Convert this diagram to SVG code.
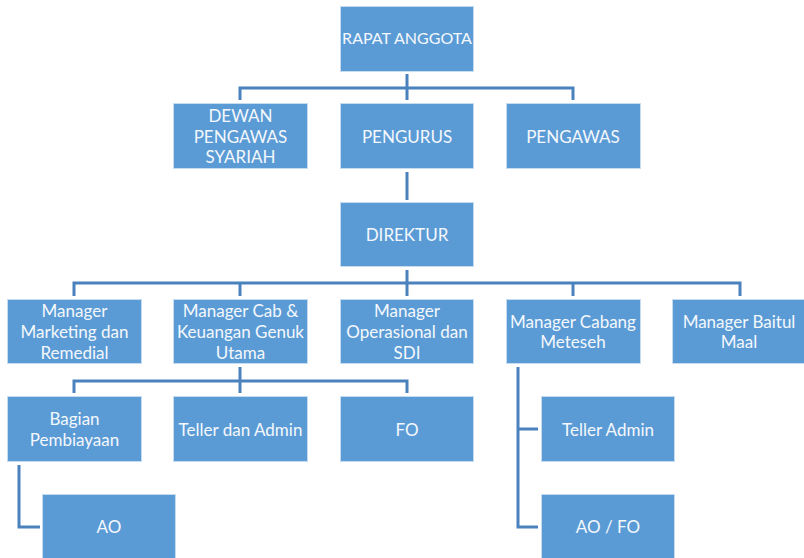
<svg xmlns="http://www.w3.org/2000/svg" width="804" height="558" viewBox="0 0 804 558">
<style>
.box{fill:#5B9BD5;stroke:#C5DCF1;stroke-width:1}
.t{font-family:Lato,"Open Sans","Liberation Sans",sans-serif;font-size:17px;fill:#F4F8FC;text-anchor:middle}
.s{font-size:16px}
.c{fill:none;stroke:#4A82BE;stroke-width:3}
</style>
<rect width="804" height="558" fill="#FFFFFF"/>
<g id="connectors">
<path class="c" d="M407 74V100M240 100V88H573V100"/>
<path class="c" d="M407 172V200"/>
<path class="c" d="M407 270V296M74 296V283H740V296M240 283V296M573 283V296"/>
<path class="c" d="M240 367V393M74 393V381H407V393"/>
<path class="c" d="M19 465V527H40"/>
<path class="c" d="M518 367V527H538M518 429H538"/>
</g>
<g id="rapat"><rect class="box" x="340.5" y="6.5" width="133" height="65"/><text class="t s" x="407" y="44">RAPAT ANGGOTA</text></g>
<g id="dps"><rect class="box" x="173.5" y="103.5" width="134" height="65"/><text class="t" x="240.5" y="122">DEWAN</text><text class="t" x="240.5" y="142.5">PENGAWAS</text><text class="t" x="240.5" y="163">SYARIAH</text></g>
<g id="pengurus"><rect class="box" x="340.5" y="103.5" width="133" height="65"/><text class="t" x="407" y="142.5">PENGURUS</text></g>
<g id="pengawas"><rect class="box" x="506.5" y="103.5" width="134" height="65"/><text class="t" x="573" y="142.5">PENGAWAS</text></g>
<g id="direktur"><rect class="box" x="340.5" y="202.5" width="133" height="64"/><text class="t" x="407" y="240.5">DIREKTUR</text></g>
<g id="m1"><rect class="box" x="7.5" y="299.5" width="134" height="64"/><text class="t" x="74.5" y="317">Manager</text><text class="t" x="74.5" y="338">Marketing dan</text><text class="t" x="74.5" y="359">Remedial</text></g>
<g id="m2"><rect class="box" x="173.5" y="299.5" width="134" height="64"/><text class="t" x="240.5" y="317">Manager Cab &amp;</text><text class="t" x="240.5" y="338">Keuangan Genuk</text><text class="t" x="240.5" y="359">Utama</text></g>
<g id="m3"><rect class="box" x="340.5" y="299.5" width="133" height="64"/><text class="t" x="407" y="317">Manager</text><text class="t" x="407" y="338">Operasional dan</text><text class="t" x="407" y="359">SDI</text></g>
<g id="m4"><rect class="box" x="506.5" y="299.5" width="134" height="64"/><text class="t" x="573" y="327.5">Manager Cabang</text><text class="t" x="573" y="348">Meteseh</text></g>
<g id="m5"><rect class="box" x="672.5" y="299.5" width="134" height="64"/><text class="t" x="739" y="327.5">Manager Baitul</text><text class="t" x="739" y="348">Maal</text></g>
<g id="bp"><rect class="box" x="7.5" y="396.5" width="134" height="65"/><text class="t" x="74.5" y="425">Bagian</text><text class="t" x="74.5" y="445.5">Pembiayaan</text></g>
<g id="teller"><rect class="box" x="173.5" y="396.5" width="134" height="65"/><text class="t" x="240.5" y="435.5">Teller dan Admin</text></g>
<g id="fo"><rect class="box" x="340.5" y="396.5" width="133" height="65"/><text class="t" x="407" y="435.5">FO</text></g>
<g id="ao"><rect class="box" x="42.5" y="494.5" width="133" height="66"/><text class="t" x="109" y="532.5">AO</text></g>
<g id="telleradmin"><rect class="box" x="541.5" y="396.5" width="133" height="65"/><text class="t" x="608" y="435.5">Teller Admin</text></g>
<g id="aofo"><rect class="box" x="541.5" y="494.5" width="133" height="66"/><text class="t" x="608" y="532.5">AO / FO</text></g>
</svg>
